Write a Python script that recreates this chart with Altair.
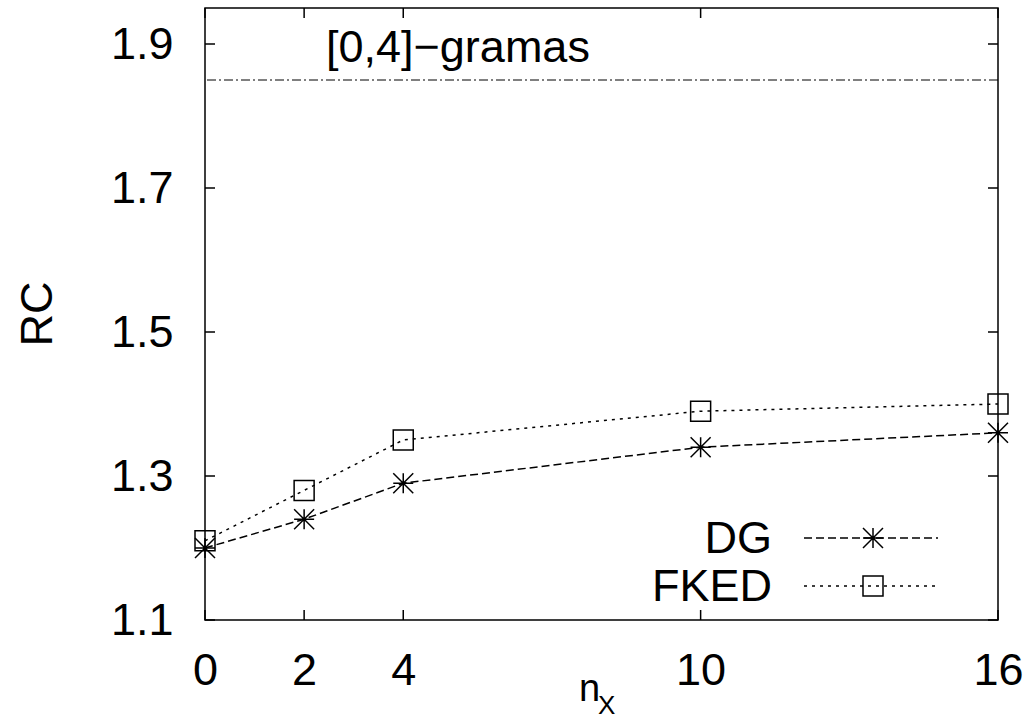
import altair as alt
import pandas as pd

# ---- data ----
nx = [0, 2, 4, 10, 16]
dg = [1.20, 1.24, 1.29, 1.34, 1.36]
fked = [1.21, 1.28, 1.35, 1.39, 1.40]
series_names = ["DG", "FKED"]
ref_value = [1.85]          # [0,4]-gramas reference line
ref_label = ["[0,4]\u2212gramas"]
x_ticks = [0, 2, 4, 10, 16]
y_ticks = [1.1, 1.3, 1.5, 1.7, 1.9]
y_domain = [1.1, 1.95]
x_domain = [0, 16]

W, H = 793, 612
FONT = "Liberation Sans"
FS = 45

df_dg = pd.DataFrame({"nx": nx, "rc": dg})
df_fk = pd.DataFrame({"nx": nx, "rc": fked})

xs = alt.Scale(domain=x_domain, nice=False, zero=False)
ys = alt.Scale(domain=y_domain, nice=False, zero=False)

x_axis = alt.Axis(values=x_ticks, ticks=False, domain=False, grid=False, title=None,
                  labelFontSize=FS, labelFont=FONT, labelColor="black", labelPadding=28,
                  labelFlush=False, labelOverlap=False, format="d")
y_axis = alt.Axis(values=y_ticks, ticks=False, domain=False, grid=False, title=None,
                  labelFontSize=FS, labelFont=FONT, labelColor="black", labelPadding=32,
                  labelFlush=False, labelOverlap=False, format=".1f")

ASTER = "M-1,0L1,0M0,-1L0,1M-1,-1L1,1M-1,1L1,-1"
DG_DASH = [8, 4]
FK_DASH = [3, 5]

base_dg = alt.Chart(df_dg)
base_fk = alt.Chart(df_fk)

line_dg = base_dg.mark_line(color="black", strokeWidth=1.5, strokeDash=DG_DASH, clip=False).encode(
    x=alt.X("nx:Q", scale=xs, axis=x_axis),
    y=alt.Y("rc:Q", scale=ys, axis=y_axis),
)
pts_dg = base_dg.mark_point(shape=ASTER, size=400, filled=False, color="black",
                            strokeWidth=1.5, opacity=1).encode(
    x=alt.X("nx:Q", scale=xs), y=alt.Y("rc:Q", scale=ys))

line_fk = base_fk.mark_line(color="black", strokeWidth=1.5, strokeDash=FK_DASH).encode(
    x=alt.X("nx:Q", scale=xs), y=alt.Y("rc:Q", scale=ys))
pts_fk = base_fk.mark_point(shape="square", size=400, filled=False, color="black",
                            strokeWidth=1.5, opacity=1).encode(
    x=alt.X("nx:Q", scale=xs), y=alt.Y("rc:Q", scale=ys))

ref_df = pd.DataFrame({"v": ref_value, "label": ref_label})
ref_line = alt.Chart(ref_df).mark_rule(color="black", strokeWidth=1,
                                       strokeDash=[9, 3, 2, 3]).encode(
    y=alt.Y("v:Q", scale=ys))
ref_text = alt.Chart(ref_df).mark_text(font=FONT, fontSize=FS, align="left",
                                       baseline="alphabetic", color="black").encode(
    x=alt.value(121), y=alt.value(54), text="label:N")

# inside ticks on all four sides
xt = pd.DataFrame({"t": x_ticks})
yt = pd.DataFrame({"t": y_ticks})
TL = 10
tick_b = alt.Chart(xt).mark_rule(color="black", strokeWidth=1.5).encode(
    x=alt.X("t:Q", scale=xs), y=alt.value(H), y2=alt.value(H - TL))
tick_t = alt.Chart(xt).mark_rule(color="black", strokeWidth=1.5).encode(
    x=alt.X("t:Q", scale=xs), y=alt.value(0), y2=alt.value(TL))
tick_l = alt.Chart(yt).mark_rule(color="black", strokeWidth=1.5).encode(
    y=alt.Y("t:Q", scale=ys), x=alt.value(0), x2=alt.value(TL))
tick_r = alt.Chart(yt).mark_rule(color="black", strokeWidth=1.5).encode(
    y=alt.Y("t:Q", scale=ys), x=alt.value(W - TL), x2=alt.value(W))

# axis titles
rc_title = alt.Chart(pd.DataFrame({"t": ["RC"]})).mark_text(
    font=FONT, fontSize=FS, angle=270, align="center", baseline="alphabetic", color="black").encode(
    x=alt.value(-153), y=alt.value(306), text="t:N")
n_title = alt.Chart(pd.DataFrame({"t": ["n"]})).mark_text(
    font=FONT, fontSize=38, align="left", baseline="alphabetic", color="black").encode(
    x=alt.value(374), y=alt.value(693), text="t:N")
x_sub = alt.Chart(pd.DataFrame({"t": ["X"]})).mark_text(
    font=FONT, fontSize=26, align="left", baseline="alphabetic", color="black").encode(
    x=alt.value(393), y=alt.value(706), text="t:N")

# manual legend
leg_layers = []
for i, (name, dash, shape) in enumerate(zip(series_names, [DG_DASH, FK_DASH], [ASTER, "square"])):
    d = pd.DataFrame({"name": [name]})
    yy = 530 + 48 * i
    leg_layers.append(alt.Chart(d).mark_text(font=FONT, fontSize=FS, align="right",
                                             baseline="alphabetic", color="black").encode(
        x=alt.value(567), y=alt.value(yy + 15), text="name:N"))
    leg_layers.append(alt.Chart(d).mark_rule(color="black", strokeWidth=1.5, strokeDash=dash).encode(
        x=alt.value(599), x2=alt.value(733), y=alt.value(yy)))
    leg_layers.append(alt.Chart(d).mark_point(shape=shape, size=400, filled=False, color="black",
                                              strokeWidth=1.5, opacity=1).encode(
        x=alt.value(668), y=alt.value(yy)))

chart = alt.layer(
    line_dg, line_fk, pts_dg, pts_fk, ref_line, ref_text,
    tick_b, tick_t, tick_l, tick_r, rc_title, n_title, x_sub, *leg_layers
).properties(
    width=W, height=H,
    autosize=alt.AutoSizeParams(type="none"),
    padding={"left": 205, "right": 32, "top": 8, "bottom": 99},
    background="white",
).configure_view(stroke="black", strokeWidth=1.5)

chart.save("out.html", embed_options={"renderer": "svg", "actions": False})
